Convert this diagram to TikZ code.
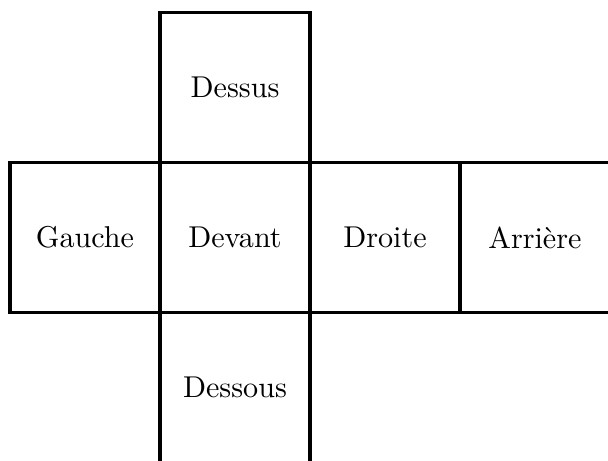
\documentclass[tikz,border=0pt]{standalone}
\usepackage{tikz}
\usetikzlibrary{positioning}
\tikzset{
  face/.style={draw, line width=1.3pt, minimum size=1.75cm, outer sep=0pt, inner sep=0pt, align=center},
}
\begin{document}
\begin{tikzpicture}[node distance=0pt]
\useasboundingbox (-2.742,-2.607) rectangle (4.352,2.771);
\node[face] (devant) at (0,0) {Devant};
\node[face, left=of devant] (gauche) {Gauche};
\node[face, right=of devant] (droite) {Droite};
\node[face, right=of droite] (arriere) {Arrière};
\node[face, above=of devant] (dessus) {Dessus};
\node[face, below=of devant] (dessous) {Dessous};
\end{tikzpicture}
\end{document}
